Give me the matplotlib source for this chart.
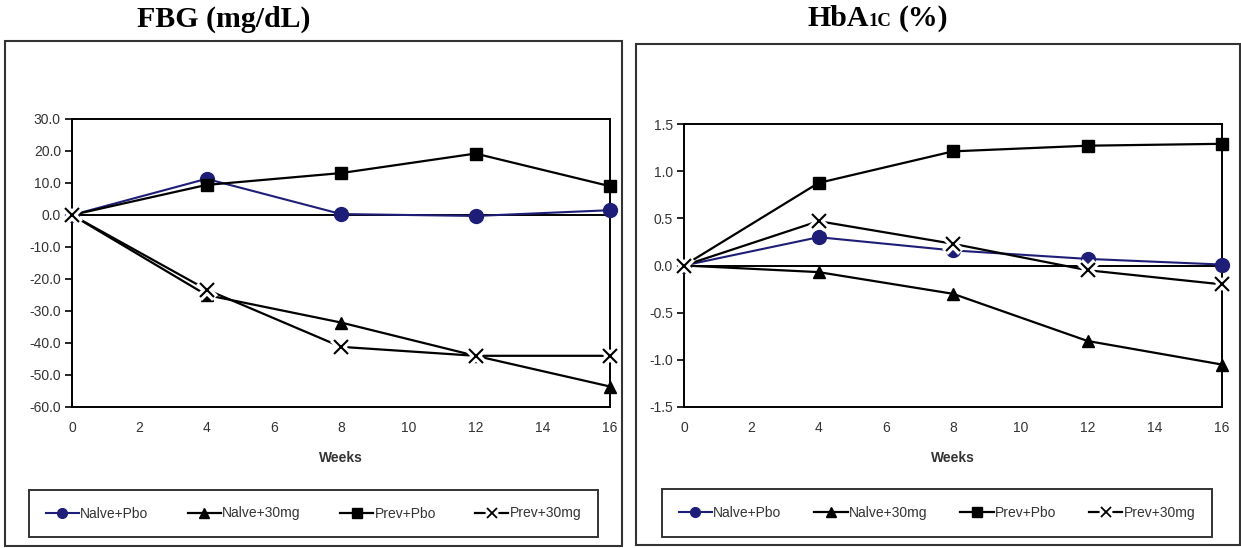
import matplotlib
matplotlib.use("Agg")
import matplotlib.pyplot as plt
from matplotlib.patches import Rectangle
from matplotlib.lines import Line2D
from matplotlib.legend_handler import HandlerTuple

plt.rcParams['font.family'] = ['Liberation Sans Narrow', 'Liberation Sans', 'DejaVu Sans']
plt.rcParams['axes.unicode_minus'] = False

weeks = [0, 4, 8, 12, 16]
labels = ["Nalve+Pbo", "Nalve+30mg", "Prev+Pbo", "Prev+30mg"]

# FBG change (mg/dL)
fbg_naive_pbo = [0.0, 11.3, 0.3, -0.3, 1.5]
fbg_naive_30 = [0.0, -25.0, -33.6, -44.0, -53.6]
fbg_prev_pbo = [0.0, 9.4, 13.1, 19.2, 9.0]
fbg_prev_30 = [0.0, -23.3, -41.2, -44.0, -44.0]

# HbA1c change (%)
hba_naive_pbo = [0.0, 0.30, 0.16, 0.07, 0.01]
hba_naive_30 = [0.0, -0.07, -0.30, -0.80, -1.05]
hba_prev_pbo = [0.0, 0.875, 1.21, 1.27, 1.29]
hba_prev_30 = [0.0, 0.47, 0.23, -0.05, -0.20]

navy = "#1e1e78"
W, H = 1241, 548
fig = plt.figure(figsize=(W / 100, H / 100), dpi=100)


def fx(px):
    return px / W


def fy(py):
    return (H - py) / H


def panel(rect, data, ylim, yticks, fmt):
    ax = fig.add_axes(rect)
    ax.axhline(0, color="black", lw=1.4, zorder=1)
    n_pbo, n_30, p_pbo, p_30 = data
    ax.plot(weeks, n_pbo, color=navy, lw=1.5, marker="o", ms=10, mfc=navy, mec=navy, zorder=3)
    ax.plot(weeks, n_30, color="black", lw=1.6, marker="^", ms=9, zorder=3)
    ax.plot(weeks, p_pbo, color="black", lw=1.6, marker="s", ms=9, zorder=3)
    ax.plot(weeks, p_30, color="black", lw=1.6, zorder=3)
    ax.plot(weeks, p_30, ls="none", marker="x", ms=11, mew=6, mec="white", zorder=4)
    ax.plot(weeks, p_30, ls="none", marker="x", ms=10, mew=1.5, mec="black", zorder=5)
    ax.set_xlim(0, 16)
    ax.set_ylim(*ylim)
    ax.set_xticks(range(0, 17, 2))
    ax.set_yticks(yticks)
    ax.set_yticklabels([fmt % v for v in yticks])
    ax.tick_params(axis="x", length=0, pad=10, labelsize=10, colors="#333333")
    ax.tick_params(axis="y", length=5, width=1.2, direction="out", pad=3, labelsize=10, colors="#333333")
    ax.tick_params(axis="y", color="black")
    for s in ax.spines.values():
        s.set_linewidth(1.4)
    for l in ax.get_lines():
        l.set_clip_on(False)
    return ax


ax1 = panel([fx(72), fy(407), fx(610) - fx(72), fy(119) - fy(407)],
            (fbg_naive_pbo, fbg_naive_30, fbg_prev_pbo, fbg_prev_30),
            (-60, 30), range(-60, 31, 10), "%.1f")
ax2 = panel([fx(684), fy(407), fx(1222) - fx(684), fy(124) - fy(407)],
            (hba_naive_pbo, hba_naive_30, hba_prev_pbo, hba_prev_30),
            (-1.5, 1.5), [-1.5, -1.0, -0.5, 0.0, 0.5, 1.0, 1.5], "%.1f")

fig.text(fx(341), fy(458), "Weeks", ha="center", va="center", fontsize=10, fontweight="bold", color="#333333")
fig.text(fx(953), fy(458), "Weeks", ha="center", va="center", fontsize=10, fontweight="bold", color="#333333")

# outer frames
fig.add_artist(Rectangle((fx(5), fy(546)), fx(622) - fx(5), fy(41) - fy(546),
                         transform=fig.transFigure, fill=False, lw=1.5, ec="#333333"))
fig.add_artist(Rectangle((fx(636), fy(545)), fx(1240) - fx(636), fy(44) - fy(545),
                         transform=fig.transFigure, fill=False, lw=1.5, ec="#333333"))

# titles
tfont = dict(family=["Liberation Serif", "DejaVu Serif"], fontweight="bold", va="center")
fig.text(fx(224), fy(19), "FBG (mg/dL)", ha="center", fontsize=21.5, **tfont)
fig.text(fx(869), fy(19), "HbA", ha="right", fontsize=21.5, **tfont)
fig.text(fx(869), fy(21), "1C", ha="left", fontsize=13.5, **tfont)
fig.text(fx(899), fy(19), "(%)", ha="left", fontsize=21.5, **tfont)

# legends
h1 = Line2D([], [], color=navy, lw=1.5, marker="o", ms=7, mfc=navy, mec=navy)
h2 = Line2D([], [], color="black", lw=1.6, marker="^", ms=7)
h3 = Line2D([], [], color="black", lw=1.6, marker="s", ms=7)
h4a = Line2D([], [], color="black", lw=1.6)
h4b = Line2D([], [], ls="none", marker="x", ms=9, mew=6, mec="white")
h4c = Line2D([], [], ls="none", marker="x", ms=7, mew=1.3, mec="black")
handles = [h1, h2, h3, (h4a, h4b, h4c)]

for x0, x1, y0, y1 in [(22, 605, 485, 542), (655, 1219, 485, 541)]:
    leg = fig.legend(handles, labels, ncol=4, loc="center",
                     bbox_to_anchor=(fx(x0), fy(y1), fx(x1) - fx(x0), fy(y0) - fy(y1)),
                     bbox_transform=fig.transFigure, mode="expand",
                     handlelength=2.4, handletextpad=0.1, borderpad=1.2,
                     fontsize=10, fancybox=False, edgecolor="black",
                     handler_map={tuple: HandlerTuple(ndivide=1, pad=0)})
    leg.get_frame().set_linewidth(1.4)
    for t in leg.get_texts():
        t.set_color("#333333")

fig.savefig("out.png", dpi=100)
